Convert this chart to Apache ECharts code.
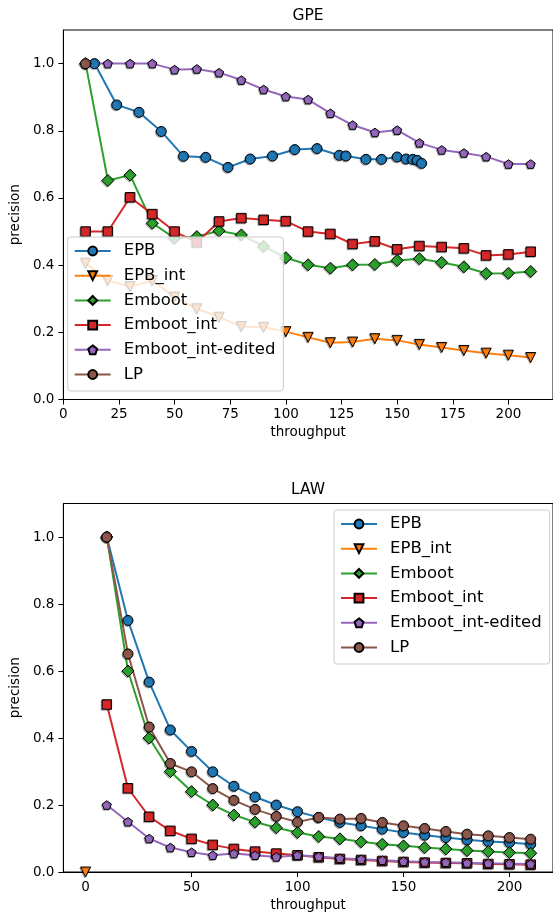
<!DOCTYPE html>
<html>
<head>
<meta charset="utf-8">
<script src="https://cdn.jsdelivr.net/npm/echarts@6/dist/echarts.min.js"></script>
<style>
  html, body { margin: 0; padding: 0; background: #fff; }
  #main { width: 553px; height: 915px; }
</style>
</head>
<body>
<div id="main"></div>
<script>
// GPE panel
var gpeX = [10, 20, 30, 40, 50, 60, 70, 80, 90, 100, 110, 120, 130, 140, 150, 160, 170, 180, 190, 200, 210];
var gpeEpbX = [14, 24, 34, 44, 54, 64, 74, 84, 94, 104, 114, 124, 127, 136, 143, 150, 154, 157, 159, 161];
var gpeEpb = [1.0, 0.877, 0.855, 0.798, 0.724, 0.721, 0.691, 0.716, 0.725, 0.744, 0.747, 0.727, 0.725, 0.715, 0.715, 0.722, 0.716, 0.715, 0.712, 0.703];
var gpeEpbInt = [0.406, 0.354, 0.336, 0.354, 0.305, 0.270, 0.245, 0.217, 0.215, 0.202, 0.185, 0.169, 0.171, 0.181, 0.176, 0.164, 0.155, 0.146, 0.138, 0.132, 0.125];
var gpeEmboot = [1.0, 0.652, 0.668, 0.525, 0.480, 0.485, 0.502, 0.490, 0.456, 0.422, 0.401, 0.391, 0.401, 0.402, 0.414, 0.419, 0.408, 0.395, 0.375, 0.376, 0.381];
var gpeEmbootInt = [0.5, 0.5, 0.602, 0.552, 0.5, 0.468, 0.530, 0.540, 0.535, 0.531, 0.5, 0.493, 0.463, 0.471, 0.447, 0.457, 0.454, 0.450, 0.429, 0.432, 0.440];
var gpeEdited = [1.0, 1.0, 1.0, 1.0, 0.982, 0.984, 0.973, 0.951, 0.923, 0.902, 0.893, 0.852, 0.817, 0.795, 0.802, 0.764, 0.743, 0.734, 0.723, 0.701, 0.701];
var gpeLpX = [10];
var gpeLp = [1.0];

// LAW panel
var lawX = [10, 20, 30, 40, 50, 60, 70, 80, 90, 100, 110, 120, 130, 140, 150, 160, 170, 180, 190, 200, 210];
var lawEpb = [1.0, 0.751, 0.567, 0.424, 0.360, 0.299, 0.256, 0.224, 0.200, 0.180, 0.163, 0.148, 0.138, 0.128, 0.118, 0.110, 0.103, 0.096, 0.091, 0.088, 0.083];
var lawEpbIntX = [0];
var lawEpbInt = [0.0];
var lawEmboot = [1.0, 0.600, 0.400, 0.300, 0.240, 0.200, 0.170, 0.149, 0.132, 0.118, 0.106, 0.099, 0.090, 0.083, 0.078, 0.073, 0.069, 0.064, 0.061, 0.058, 0.056];
var lawEmbootInt = [0.5, 0.25, 0.165, 0.123, 0.099, 0.081, 0.069, 0.061, 0.055, 0.050, 0.044, 0.039, 0.036, 0.033, 0.030, 0.028, 0.027, 0.026, 0.024, 0.023, 0.022];
var lawEdited = [0.2, 0.15, 0.1, 0.073, 0.059, 0.050, 0.055, 0.050, 0.045, 0.050, 0.046, 0.041, 0.038, 0.035, 0.032, 0.030, 0.029, 0.027, 0.026, 0.025, 0.024];
var lawLp = [1.0, 0.651, 0.433, 0.324, 0.299, 0.249, 0.214, 0.187, 0.166, 0.149, 0.163, 0.158, 0.160, 0.148, 0.138, 0.130, 0.121, 0.113, 0.108, 0.103, 0.098];

var names = ['EPB', 'EPB_int', 'Emboot', 'Emboot_int', 'Emboot_int-edited', 'LP'];
var yTicks = [0, 0.2, 0.4, 0.6, 0.8, 1.0];
var gpeXTicks = [0, 25, 50, 75, 100, 125, 150, 175, 200];
var lawXTicks = [0, 50, 100, 150, 200];

var FONT = 'DejaVu Sans';
var PENTAGON = 'path://M0,-1L0.951,-0.309L0.588,0.809L-0.588,0.809L-0.951,-0.309Z';
var styles = {
    'EPB': { color: '#1f77b4', symbol: 'circle', size: 10, rotate: 0 },
    'EPB_int': { color: '#ff7f0e', symbol: 'triangle', size: 10, rotate: 180 },
    'Emboot': { color: '#2ca02c', symbol: 'diamond', size: 12, rotate: 0 },
    'Emboot_int': { color: '#d62728', symbol: 'rect', size: 9.5, rotate: 0 },
    'Emboot_int-edited': { color: '#9467bd', symbol: PENTAGON, size: 9, rotate: 0 },
    'LP': { color: '#8c564b', symbol: 'circle', size: 10, rotate: 0 }
};

function zip(xs, ys) {
    return xs.map(function(x, i) { return [x, ys[i]]; });
}

function makeSeries(name, idx, xs, ys) {
    var s = styles[name];
    return {
        name: name,
        type: 'line',
        xAxisIndex: idx,
        yAxisIndex: idx,
        data: zip(xs, ys),
        symbol: s.symbol,
        symbolSize: s.size,
        symbolRotate: s.rotate,
        symbolKeepAspect: true,
        showAllSymbol: true,
        animation: false,
        color: s.color,
        lineStyle: { width: 2, color: s.color },
        itemStyle: {
            color: s.color,
            borderColor: '#000',
            borderWidth: 1,
            shadowColor: 'rgba(0,0,0,0.25)',
            shadowOffsetX: -1,
            shadowOffsetY: 1
        },
        emphasis: { disabled: true },
        z: 2
    };
}

function xAxis(idx, min, max, ticks) {
    return {
        type: 'value',
        gridIndex: idx,
        min: min,
        max: max,
        name: 'throughput',
        nameLocation: 'middle',
        nameGap: 26,
        nameTextStyle: { fontFamily: FONT, fontSize: 13.5, color: '#000' },
        axisLine: { show: true, onZero: false, lineStyle: { color: '#000', width: 1 } },
        axisTick: { show: true, length: 5, customValues: ticks, lineStyle: { color: '#000' } },
        axisLabel: { customValues: ticks, margin: 8, fontFamily: FONT, fontSize: 13.5, color: '#000' },
        splitLine: { show: false }
    };
}

function yAxis(idx) {
    return {
        type: 'value',
        gridIndex: idx,
        min: 0,
        max: 1.1,
        name: 'precision',
        nameLocation: 'middle',
        nameGap: 36,
        nameTextStyle: { fontFamily: FONT, fontSize: 13.5, color: '#000' },
        axisLine: { show: true, onZero: false, lineStyle: { color: '#000', width: 1 } },
        axisTick: { show: true, length: 5, customValues: yTicks, lineStyle: { color: '#000' } },
        axisLabel: {
            customValues: yTicks,
            margin: 9,
            fontFamily: FONT,
            fontSize: 13.5,
            color: '#000',
            formatter: function(v) { return v.toFixed(1); }
        },
        splitLine: { show: false }
    };
}

function legend(left, top) {
    return {
        data: names,
        orient: 'vertical',
        left: left,
        top: top,
        padding: [5.5, 8, 8, 6],
        itemWidth: 36,
        itemHeight: 11,
        itemGap: 7.7,
        backgroundColor: 'rgba(255,255,255,0.8)',
        borderColor: '#cccccc',
        borderWidth: 1,
        borderRadius: 3,
        selectedMode: false,
        z: 10,
        textStyle: {
            fontFamily: FONT,
            fontSize: 16.5,
            lineHeight: 17,
            color: '#000',
            padding: [0, 0, 0, 8]
        }
    };
}

var dom = document.getElementById('main');
var myChart = echarts.init(dom, null, { renderer: 'canvas' });

var series = [
    makeSeries('EPB', 0, gpeEpbX, gpeEpb),
    makeSeries('EPB_int', 0, gpeX, gpeEpbInt),
    makeSeries('Emboot', 0, gpeX, gpeEmboot),
    makeSeries('Emboot_int', 0, gpeX, gpeEmbootInt),
    makeSeries('Emboot_int-edited', 0, gpeX, gpeEdited),
    makeSeries('LP', 0, gpeLpX, gpeLp),
    makeSeries('EPB', 1, lawX, lawEpb),
    makeSeries('EPB_int', 1, lawEpbIntX, lawEpbInt),
    makeSeries('Emboot', 1, lawX, lawEmboot),
    makeSeries('Emboot_int', 1, lawX, lawEmbootInt),
    makeSeries('Emboot_int-edited', 1, lawX, lawEdited),
    makeSeries('LP', 1, lawX, lawLp)
];

var option = {
    animation: false,
    backgroundColor: '#fff',
    grid: [
        { left: 59, top: 30, width: 497, height: 369.5, show: true, borderColor: '#000', borderWidth: 1, backgroundColor: 'transparent' },
        { left: 59, top: 503.5, width: 497, height: 368.5, show: true, borderColor: '#000', borderWidth: 1, backgroundColor: 'transparent' }
    ],
    xAxis: [xAxis(0, 0, 220, gpeXTicks), xAxis(1, -10.5, 220.5, lawXTicks)],
    yAxis: [yAxis(0), yAxis(1)],
    legend: [legend(67.7, 237), legend(334, 510)],
    graphic: [
        { type: 'text', x: 308, y: 16, style: { text: 'GPE', font: '15.5px "DejaVu Sans"', fill: '#000', textAlign: 'center', textVerticalAlign: 'middle' } },
        { type: 'text', x: 308, y: 490, style: { text: 'LAW', font: '15.5px "DejaVu Sans"', fill: '#000', textAlign: 'center', textVerticalAlign: 'middle' } }
    ],
    series: series
};

if (option && typeof option === 'object') {
    myChart.setOption(option, true);
}
</script>
</body>
</html>
